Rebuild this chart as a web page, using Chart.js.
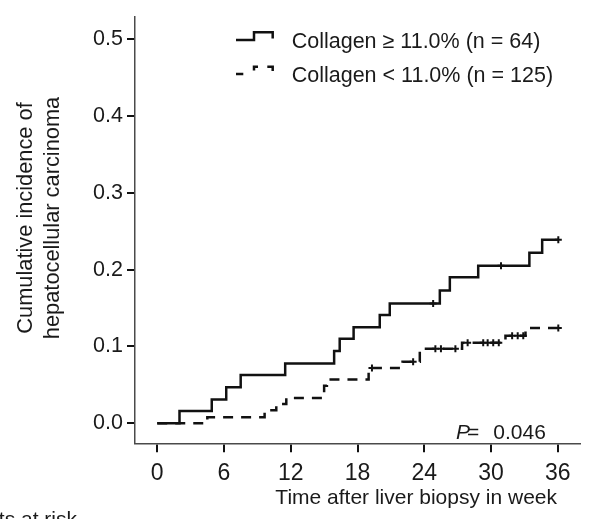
<!DOCTYPE html>
<html>
<head>
<meta charset="utf-8">
<script src="https://cdn.jsdelivr.net/npm/chart.js@4.4.1/dist/chart.umd.min.js"></script>
<style>
  html, body { margin: 0; padding: 0; background: #ffffff; }
  canvas { display: block; }
</style>
</head>
<body>
<canvas id="kmChart" width="590" height="519"></canvas>
<script>
// Cumulative incidence of HCC by liver collagen content

const xTicks = [0, 6, 12, 18, 24, 30, 36];
const yTicks = [0, 0.1, 0.2, 0.3, 0.4, 0.5];

const highLabel = "Collagen \u2265 11.0% (n = 64)";
const lowLabel = "Collagen < 11.0% (n = 125)";

// collagen >= 11% : event times (weeks) and cumulative incidence after each step
const highTimes = [0, 2.0, 4.9, 6.2, 7.5, 11.5, 15.9, 16.4, 17.65, 20.0, 20.9, 25.4, 26.3, 28.85, 33.45, 34.6, 36.05];
const highCum   = [0, 0.016, 0.031, 0.047, 0.063, 0.078, 0.094, 0.110, 0.125, 0.141, 0.156, 0.173, 0.190, 0.205, 0.222, 0.239, 0.239];
const highCensorTimes = [24.8, 30.9, 36.05];
const highCensorCum   = [0.156, 0.205, 0.239];

// collagen < 11%
const lowTimes = [0, 4.5, 9.65, 10.7, 11.6, 15.0, 15.25, 19.0, 22.05, 23.6, 27.4, 31.3, 33.1, 36.05];
const lowCum   = [0, 0.008, 0.017, 0.025, 0.033, 0.049, 0.057, 0.072, 0.080, 0.097, 0.105, 0.114, 0.124, 0.124];
const lowCensorTimes = [19.3, 23.0, 25.0, 25.5, 26.8, 27.9, 29.3, 29.7, 30.2, 30.7, 31.9, 32.4, 32.9, 36.05];
const lowCensorCum   = [0.072, 0.080, 0.097, 0.097, 0.097, 0.105, 0.105, 0.105, 0.105, 0.105, 0.114, 0.114, 0.114, 0.124];

const pValueText = "0.046";
const xTitle = "Time after liver biopsy in week";
const yTitle = ["Cumulative incidence of", "hepatocellular carcinoma"];
const riskTitle = "Patients at risk";

const FONT = "'Liberation Sans', Arial, Helvetica, sans-serif";
const INK = "#111111";

Chart.defaults.font.family = FONT;
Chart.defaults.color = "#1a1a1a";

function toPoints(xs, ys) {
  return xs.map((x, i) => ({ x: x, y: ys[i] }));
}

// legend, axis titles and the p value
const extraText = {
  id: "extraText",
  afterDraw(chart) {
    const ctx = chart.ctx;
    ctx.save();
    ctx.fillStyle = "#1a1a1a";
    ctx.strokeStyle = INK;
    ctx.lineWidth = 2.5;
    ctx.lineCap = "butt";

    // legend symbols
    ctx.beginPath();
    ctx.moveTo(236, 40);
    ctx.lineTo(254, 40);
    ctx.lineTo(254, 32.3);
    ctx.lineTo(272.7, 32.3);
    ctx.lineTo(272.7, 38.5);
    ctx.stroke();

    ctx.setLineDash([7.3, 14.2, 7.8, 9.3, 12, 20]);
    ctx.beginPath();
    ctx.moveTo(236, 74);
    ctx.lineTo(254, 74);
    ctx.lineTo(254, 66.7);
    ctx.lineTo(272.7, 66.7);
    ctx.lineTo(272.7, 71);
    ctx.stroke();
    ctx.setLineDash([]);

    ctx.font = "21.5px " + FONT;
    ctx.textAlign = "left";
    ctx.textBaseline = "alphabetic";
    ctx.fillText(highLabel, 291.7, 47.5);
    ctx.fillText(lowLabel, 291.7, 82);

    // p value
    ctx.font = "italic 21px " + FONT;
    ctx.fillText("P", 456, 438.5);
    ctx.font = "21px " + FONT;
    ctx.fillText("=", 467, 438.5);
    ctx.fillText(pValueText, 493.3, 438.5);

    // x axis title
    ctx.textAlign = "right";
    ctx.fillText(xTitle, 557, 504);

    // cut-off "at risk" header
    ctx.fillText(riskTitle, 77, 526);

    // y axis title
    ctx.textAlign = "center";
    ctx.textBaseline = "middle";
    ctx.font = "21.8px " + FONT;
    const lineX = [25.8, 52.5];
    yTitle.forEach((line, i) => {
      ctx.save();
      ctx.translate(lineX[i], 218);
      ctx.rotate(-Math.PI / 2);
      ctx.fillText(line, 0, 0);
      ctx.restore();
    });

    ctx.restore();
  }
};

const kmChart = new Chart(document.getElementById("kmChart"), {
  type: "line",
  data: {
    datasets: [
      {
        label: highLabel,
        data: toPoints(highTimes, highCum),
        stepped: "before",
        borderColor: INK,
        borderWidth: 2.5,
        pointRadius: 0,
        fill: false,
      },
      {
        label: lowLabel,
        data: toPoints(lowTimes, lowCum),
        stepped: "before",
        borderColor: INK,
        borderWidth: 2.5,
        borderDash: [10, 8],
        pointRadius: 0,
        fill: false,
      },
      {
        type: "scatter",
        label: "censored high",
        data: toPoints(highCensorTimes, highCensorCum),
        pointStyle: "cross",
        pointRadius: 3.5,
        borderColor: INK,
        borderWidth: 2,
        showLine: false,
      },
      {
        type: "scatter",
        label: "censored low",
        data: toPoints(lowCensorTimes, lowCensorCum),
        pointStyle: "cross",
        pointRadius: 3.5,
        borderColor: INK,
        borderWidth: 2,
        showLine: false,
      },
    ],
  },
  options: {
    responsive: false,
    animation: false,
    layout: { padding: { top: 6.7, right: 10, left: 0, bottom: 0 } },
    plugins: {
      legend: { display: false },
      tooltip: { enabled: false },
    },
    scales: {
      x: {
        type: "linear",
        min: -2,
        max: 38,
        afterBuildTicks: (scale) => { scale.ticks = xTicks.map(v => ({ value: v })); },
        afterFit: (scale) => { scale.height = 75.7; },
        grid: {
          drawOnChartArea: false,
          drawTicks: true,
          tickLength: 9,
          tickColor: INK,
          lineWidth: 2,
        },
        border: { display: true, color: "#4a4a4a", width: 1.5 },
        ticks: {
          padding: 8,
          font: { size: 23 },
          color: "#1a1a1a",
          maxRotation: 0,
          callback: (v) => String(v),
        },
      },
      y: {
        type: "linear",
        min: -0.026,
        max: 0.529,
        afterBuildTicks: (scale) => { scale.ticks = yTicks.map(v => ({ value: v })); },
        afterFit: (scale) => { scale.width = 135; },
        grid: {
          drawOnChartArea: false,
          drawTicks: true,
          tickLength: 8,
          tickColor: INK,
          lineWidth: 2,
        },
        border: { display: true, color: "#4a4a4a", width: 1.5 },
        ticks: {
          padding: 4,
          font: { size: 21.5 },
          color: "#1a1a1a",
          callback: (v) => Number(v).toFixed(1),
        },
      },
    },
  },
  plugins: [extraText],
});
</script>
</body>
</html>
